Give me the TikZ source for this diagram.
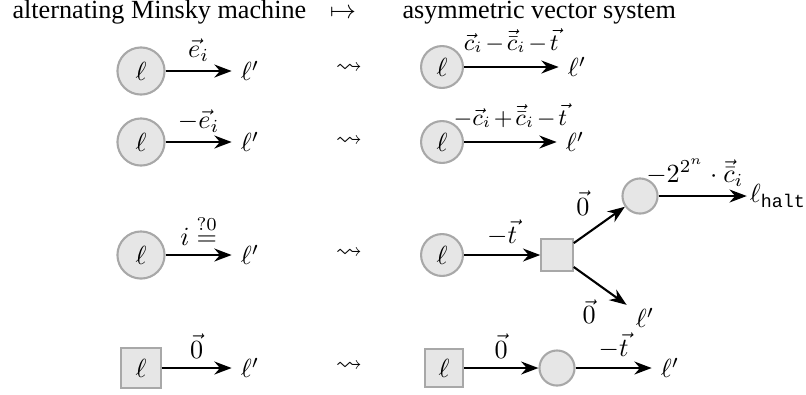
\documentclass[tikz,border=0pt]{standalone}
\usepackage{amssymb}
\usepackage{fontspec}
\setmainfont{Liberation Serif}
\setmonofont{Liberation Mono}
\usetikzlibrary{arrows.meta,positioning}
\definecolor{fillgray}{HTML}{E6E6E6}
\definecolor{rimgray}{HTML}{A8A8A8}

\begin{document}
\begin{tikzpicture}[x=0.382pt, y=-0.382pt,
    state/.style={circle, draw=rimgray, fill=fillgray, thick, minimum size=16pt, inner sep=0pt},
    choice/.style={rectangle, draw=rimgray, fill=fillgray, thick, minimum size=14.5pt, inner sep=0pt},
    arrow/.style={-Stealth, thick, color=black},
    tight/.style={font=\small, inner sep=1pt, yshift=4pt}
]
\useasboundingbox (0,0) rectangle (806,394);

% headings
\node[anchor=base west, inner sep=0pt] (amm) at (12,18) {alternating Minsky machine};
\node[anchor=base, inner sep=0pt] (maps) at (343,18) {$\mapsto$};
\node[anchor=base west, inner sep=0pt] (avs) at (402,18) {asymmetric vector system};

% increment
\node[state, minimum size=18pt] (inc) at (141,71) {$\ell$};
\node (incnext) at (250,71) {$\ell'$};
\draw[arrow] (inc) -- node[above]{$\vec{e}_i$} (incnext);
\node (incto) at (349,69) {$\rightsquigarrow$};
\node[state] (incv) at (442,67) {$\ell$};
\node (incvnext) at (577,67) {$\ell'$};
\draw[arrow] (incv) -- node[above, tight]{$\medmuskip=2mu \vec{c}_i-\vec{\bar{c}}_i-\vec{t}$} (incvnext);

% decrement
\node[state, minimum size=18pt] (dec) at (141,142) {$\ell$};
\node (decnext) at (250,142) {$\ell'$};
\draw[arrow] (dec) -- node[above]{$-\vec{e}_i$} (decnext);
\node (decto) at (349,142) {$\rightsquigarrow$};
\node[state] (decv) at (442,142) {$\ell$};
\node (decvnext) at (575,142) {$\ell'$};
\draw[arrow] (decv) -- node[above, tight]{$\medmuskip=2mu -\vec{c}_i+\vec{\bar{c}}_i-\vec{t}$} (decvnext);

% zero test
\node[state, minimum size=18pt] (zero) at (141,255) {$\ell$};
\node (zeronext) at (250,255) {$\ell'$};
\draw[arrow] (zero) -- node[above]{$i\stackrel{?0}{=}$} (zeronext);
\node (zeroto) at (349,254) {$\rightsquigarrow$};
\node[state] (zerov) at (442,255) {$\ell$};
\node[choice, minimum size=12pt] (split) at (557,255) {};
\node[state, minimum size=13.4pt] (check) at (640,196) {};
\node[inner sep=1pt] (halt) at (778,196) {$\ell_{\mathtt{halt}}$};
\node (zerovnext) at (645,318) {$\ell'$};
\draw[arrow] (zerov) -- node[above]{$-\vec{t}$} (split);
\draw[arrow] (split) -- node[above left]{$\vec{0}$} (check);
\draw[arrow] (check) -- node[above, xshift=-3pt]{$-2^{2^n}\cdot\vec{\bar{c}}_i$} (halt);
\draw[arrow] (split) -- node[below left, pos=0.6]{$\vec{0}$} (zerovnext);

% fork
\node[choice, minimum size=15pt] (fork) at (141,368) {$\ell$};
\node (forknext) at (250,368) {$\ell'$};
\draw[arrow] (fork) -- node[above]{$\vec{0}$} (forknext);
\node (forkto) at (349,367) {$\rightsquigarrow$};
\node[choice] (forkv) at (444,368) {$\ell$};
\node[state, minimum size=13.4pt] (forkmid) at (557,368) {};
\node (forkvnext) at (670,368) {$\ell'$};
\draw[arrow] (forkv) -- node[above]{$\vec{0}$} (forkmid);
\draw[arrow] (forkmid) -- node[above]{$-\vec{t}$} (forkvnext);
\end{tikzpicture}
\end{document}
